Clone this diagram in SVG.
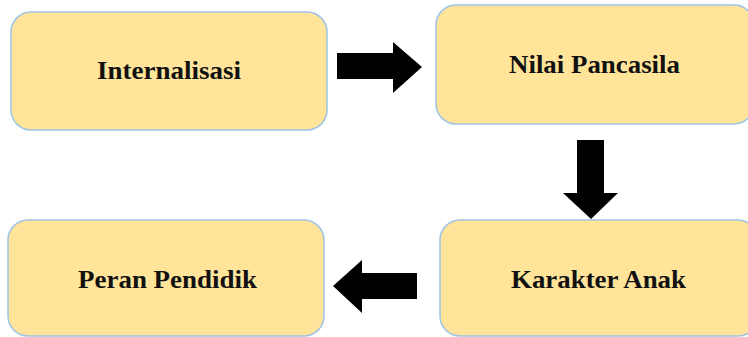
<svg xmlns="http://www.w3.org/2000/svg" width="748" height="337" viewBox="0 0 748 337">
  <style>
    .box { fill: #FFE499; stroke: #9DC3E6; stroke-width: 1.5; }
    .lbl { font-family: "Liberation Serif", "Times New Roman", serif; font-weight: bold; font-size: 25px; fill: #111; text-anchor: middle; }
    .arr { fill: #000; }
  </style>
  <rect width="748" height="337" fill="#fff"/>
  <g id="internalisasi">
    <rect class="box" x="11" y="12" width="316" height="118" rx="20" ry="20"/>
    <text class="lbl" x="169" y="79" textLength="144" lengthAdjust="spacingAndGlyphs">Internalisasi</text>
  </g>
  <g id="nilai-pancasila">
    <rect class="box" x="436" y="5" width="318" height="119" rx="20" ry="20"/>
    <text class="lbl" x="594.5" y="73" textLength="171" lengthAdjust="spacingAndGlyphs">Nilai Pancasila</text>
  </g>
  <g id="karakter-anak">
    <rect class="box" x="440" y="220" width="318" height="116" rx="20" ry="20"/>
    <text class="lbl" x="598.5" y="288" textLength="175" lengthAdjust="spacingAndGlyphs">Karakter Anak</text>
  </g>
  <g id="peran-pendidik">
    <rect class="box" x="8" y="220" width="316" height="116" rx="20" ry="20"/>
    <text class="lbl" x="167.5" y="288" textLength="179" lengthAdjust="spacingAndGlyphs">Peran Pendidik</text>
  </g>
  <g id="connectors">
    <polygon class="arr" points="337,53 393,53 393,42 422,67 393,93 393,79 337,79"/>
    <polygon class="arr" points="577,140 604,140 604,193 618,193 591,219 563,193 577,193"/>
    <polygon class="arr" points="417,273 362,273 362,260 333,286 362,313 362,299 417,299"/>
  </g>
</svg>
